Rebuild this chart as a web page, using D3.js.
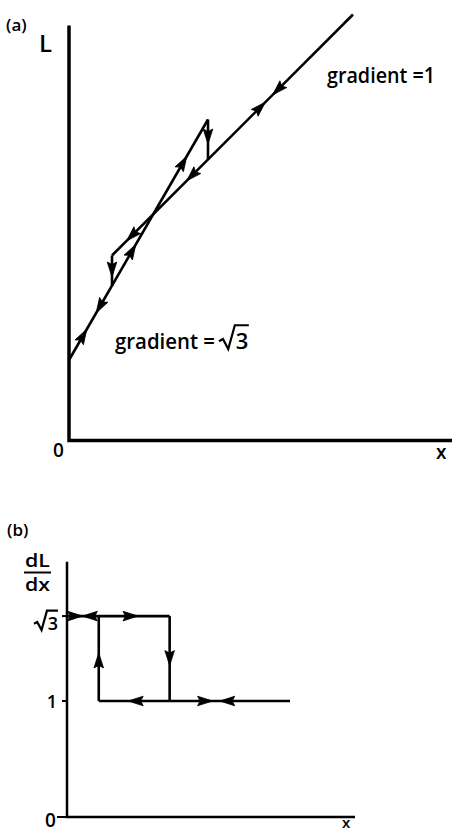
<!DOCTYPE html>
<html>
<head>
<meta charset="utf-8">
<script src="https://cdn.jsdelivr.net/npm/d3@7"></script>
<style>
  body { margin: 0; background: #fff; }
  svg { display: block; }
  text { font-family: "Open Sans", "DejaVu Sans", sans-serif; font-weight: 600; fill: #000; }
</style>
</head>
<body>
<svg id="chart" width="452" height="835"></svg>
<script>
const ROOT3 = Math.sqrt(3);

// ---- Panel (a): L against x ----
// branch with gradient √3 (lower-left start up to the peak of the loop)
const steepBranch = [[0, 8.05], [13.9, 32.1]];
// branch with gradient 1
const unitBranch = [[4.3, 18.5], [28.4, 42.6]];
// vertical jumps between the two branches
const rightJump = [[13.9, 32.1], [13.9, 28.1]];
const leftJump = [[4.3, 18.5], [4.3, 15.5]];
// arrowheads: segment, position (x, or L on a vertical jump), direction along the segment
const arrowsA = [
  { seg: "unit", at: 20.9, dir: -1 },
  { seg: "unit", at: 19.1, dir: 1 },
  { seg: "unit", at: 12.3, dir: -1 },
  { seg: "unit", at: 6.3, dir: -1 },
  { seg: "steep", at: 11.4, dir: 1 },
  { seg: "steep", at: 6.3, dir: 1 },
  { seg: "steep", at: 3.1, dir: -1 },
  { seg: "steep", at: 1.4, dir: 1 },
  { seg: "rightJump", at: 30.4, dir: 1 },
  { seg: "leftJump", at: 17.1, dir: 1 }
];

// ---- Panel (b): dL/dx against x ----
const topLevel = [[0, ROOT3], [13.9, ROOT3]];
const downStep = [[13.9, ROOT3], [13.9, 1]];
const lowLevel = [[4.3, 1], [30.2, 1]];
const upStep = [[4.3, 1], [4.3, ROOT3]];
const arrowsB = [
  { seg: "top", at: 1.1, dir: 1 },
  { seg: "top", at: 3.1, dir: -1 },
  { seg: "top", at: 8.6, dir: 1 },
  { seg: "down", at: 1.37, dir: 1 },
  { seg: "low", at: 9.3, dir: -1 },
  { seg: "up", at: 1.35, dir: 1 },
  { seg: "low", at: 18.7, dir: 1 },
  { seg: "low", at: 21.7, dir: -1 }
];
const levelTicks = [1, ROOT3];

const svg = d3.select("#chart");

// scales
const xA = d3.scaleLinear().domain([0, 38.3]).range([69, 452]);
const yA = d3.scaleLinear().domain([0, 41.5]).range([440.5, 25.5]);
const xB = d3.scaleLinear().domain([0, 39]).range([67, 355]);
const yB = d3.scaleLinear().domain([0, 2.2]).range([817, 561.8]);

const line = (xs, ys) => d3.line().x(d => xs(d[0])).y(d => ys(d[1]));

// dart-shaped arrowhead pointing along +x, centred on the origin
const headPath = "M7.5,0 L-7.5,-4.8 L-5,0 L-7.5,4.8 Z";

function drawArrows(g, list, segs, xs, ys) {
  list.forEach(a => {
    const s = segs[a.seg];
    const p0 = [xs(s[0][0]), ys(s[0][1])];
    const p1 = [xs(s[1][0]), ys(s[1][1])];
    const vertical = s[0][0] === s[1][0];
    const t = vertical
      ? (a.at - s[0][1]) / (s[1][1] - s[0][1])
      : (a.at - s[0][0]) / (s[1][0] - s[0][0]);
    const px = p0[0] + t * (p1[0] - p0[0]);
    const py = p0[1] + t * (p1[1] - p0[1]);
    const ang = Math.atan2((p1[1] - p0[1]) * a.dir, (p1[0] - p0[0]) * a.dir) * 180 / Math.PI;
    g.append("path")
      .attr("d", headPath)
      .attr("transform", `translate(${px},${py}) rotate(${ang})`)
      .attr("fill", "#000").attr("stroke", "#000").attr("stroke-width", 0.8)
      .attr("stroke-linejoin", "round");
  });
}

// radical sign with overline, followed by the digit
function drawRoot(g, x, baseline, size, digit, w) {
  g.append("path")
    .attr("d", `M${x},${baseline - size * 0.35} L${x + size * 0.18},${baseline - size * 0.45} L${x + size * 0.42},${baseline} L${x + size * 0.72},${baseline - size * 1.08} L${x + size * 0.72 + w},${baseline - size * 1.08}`)
    .attr("fill", "none").attr("stroke", "#000").attr("stroke-width", 2.2)
    .attr("stroke-linejoin", "miter");
  g.append("text").attr("x", x + size * 0.76).attr("y", baseline)
    .attr("font-size", size).text(digit);
}

// ===== Panel (a) =====
const gA = svg.append("g");
gA.append("path")
  .attr("d", `M${xA(0)},${yA(41.5)} L${xA(0)},${yA(0)} L${xA(38.3)},${yA(0)}`)
  .attr("fill", "none").attr("stroke", "#000").attr("stroke-width", 3.5);

const segsA = { steep: steepBranch, unit: unitBranch, rightJump, leftJump };
Object.values(segsA).forEach(s => {
  gA.append("path").attr("d", line(xA, yA)(s))
    .attr("fill", "none").attr("stroke", "#000").attr("stroke-width", 2.6);
});
drawArrows(gA, arrowsA, segsA, xA, yA);

gA.append("text").attr("x", 6).attr("y", 31).attr("font-size", 17).attr("font-weight", 700).text("(a)");
gA.append("text").attr("x", 39).attr("y", 52).attr("font-size", 24).text("L");
gA.append("text").attr("x", 53).attr("y", 457).attr("font-size", 19).text("0");
gA.append("text").attr("x", 436).attr("y", 459).attr("font-size", 19).attr("font-weight", 700).text("x");
gA.append("text").attr("x", 327).attr("y", 83).attr("font-size", 22)
  .attr("textLength", 108).attr("lengthAdjust", "spacingAndGlyphs").text("gradient =1");
gA.append("text").attr("x", 115).attr("y", 349).attr("font-size", 22)
  .attr("textLength", 100).attr("lengthAdjust", "spacingAndGlyphs").text("gradient =");
drawRoot(gA, 219, 349, 22, "3", 14);

// ===== Panel (b) =====
const gB = svg.append("g");
gB.append("path")
  .attr("d", `M${xB(0)},${yB(2.2)} L${xB(0)},${yB(0)} L${xB(39)},${yB(0)}`)
  .attr("fill", "none").attr("stroke", "#000").attr("stroke-width", 2.5);
// short tick at the origin and on the level ticks
gB.append("line").attr("x1", xB(0) - 10).attr("x2", xB(0)).attr("y1", yB(0)).attr("y2", yB(0))
  .attr("stroke", "#000").attr("stroke-width", 2);
levelTicks.forEach(v => {
  gB.append("line").attr("x1", xB(0) - 5).attr("x2", xB(0)).attr("y1", yB(v)).attr("y2", yB(v))
    .attr("stroke", "#000").attr("stroke-width", 2);
});

const segsB = { top: topLevel, down: downStep, low: lowLevel, up: upStep };
Object.values(segsB).forEach(s => {
  gB.append("path").attr("d", line(xB, yB)(s))
    .attr("fill", "none").attr("stroke", "#000").attr("stroke-width", 2.6);
});
drawArrows(gB, arrowsB, segsB, xB, yB);

gB.append("text").attr("x", 7).attr("y", 536).attr("font-size", 17).attr("font-weight", 700).text("(b)");
gB.append("text").attr("x", 25).attr("y", 567).attr("font-size", 18)
  .attr("textLength", 25).attr("lengthAdjust", "spacingAndGlyphs").text("dL");
gB.append("line").attr("x1", 24).attr("x2", 51).attr("y1", 572.5).attr("y2", 572.5)
  .attr("stroke", "#000").attr("stroke-width", 2);
gB.append("text").attr("x", 25).attr("y", 591).attr("font-size", 18)
  .attr("textLength", 25).attr("lengthAdjust", "spacingAndGlyphs").text("dx");
drawRoot(gB, 34, yB(ROOT3) + 14, 18, "3", 11);
gB.append("text").attr("x", 57).attr("y", yB(1) + 7).attr("font-size", 18).attr("text-anchor", "end").text("1");
gB.append("text").attr("x", 45).attr("y", 827).attr("font-size", 19).text("0");
gB.append("text").attr("x", 342).attr("y", 828).attr("font-size", 15).attr("font-weight", 700).text("x");
</script>
</body>
</html>
